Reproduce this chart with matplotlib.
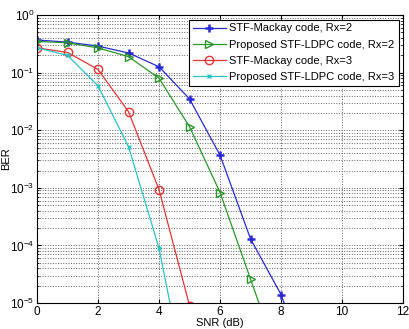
import matplotlib as mpl
mpl.use('Agg')
import matplotlib.pyplot as plt
import numpy as np
from matplotlib.ticker import LogLocator, NullFormatter

snr = [0, 1, 2, 3, 4, 5, 6, 7, 8, 9]

mackay_rx2 = [0.37, 0.34, 0.29, 0.22, 0.127, 0.035, 3.7e-3, 1.3e-4, 1.4e-5, 5e-7]
ldpc_rx2 = [0.35, 0.33, 0.27, 0.19, 0.08, 0.0115, 8.3e-4, 2.6e-5, 8e-7]
mackay_rx3 = [0.27, 0.225, 0.114, 0.021, 9.3e-4, 9e-6, 2e-7]
ldpc_rx3 = [0.27, 0.2, 0.059, 5.2e-3, 8.9e-5, 2e-7]

labels = ['STF-Mackay code, Rx=2', 'Proposed STF-LDPC code, Rx=2',
          'STF-Mackay code, Rx=3', 'Proposed STF-LDPC code, Rx=3']

plt.rcParams['font.family'] = ['Liberation Sans', 'DejaVu Sans']

fig = plt.figure(figsize=(4.09, 3.29), dpi=100)
ax = fig.add_axes([0.0905, 0.079, 0.895, 0.875])

series = [
    (mackay_rx2, '#2a2ad0', dict(marker='+', markersize=6, markeredgewidth=1.8)),
    (ldpc_rx2, '#2a962a', dict(marker='>', markersize=6, markerfacecolor='none')),
    (mackay_rx3, '#e03434', dict(marker='o', markersize=6, markerfacecolor='none')),
    (ldpc_rx3, '#28c4c4', dict(marker='x', markersize=3.5)),
]
for (vals, colour, mk), label in zip(series, labels):
    ax.semilogy(snr[:len(vals)], vals, color=colour, linewidth=0.9,
                label=label, **mk)

ax.set_xlim(0, 12)
ax.set_ylim(1e-5, 1)
ax.set_xticks(range(0, 13, 2))
ax.yaxis.set_major_locator(LogLocator(base=10, numticks=10))
ax.yaxis.set_minor_locator(LogLocator(base=10, subs=np.arange(2, 10), numticks=10))
ax.yaxis.set_minor_formatter(NullFormatter())
ax.grid(True, which='major', axis='both', linestyle=':', color='#606060',
        linewidth=0.7)
ax.grid(True, which='minor', axis='y', linestyle=':', color='#606060',
        linewidth=0.7)
ax.tick_params(which='both', direction='in', top=True, right=True,
               labelsize=8.5, length=3, pad=2)
ax.tick_params(which='minor', length=1.5)
for sp in ax.spines.values():
    sp.set_linewidth(0.8)

ax.set_xlabel('SNR (dB)', fontsize=8, labelpad=0)
ax.set_ylabel('BER', fontsize=8, labelpad=-1)

leg = ax.legend(loc='upper right', fontsize=8, fancybox=False,
                framealpha=1, edgecolor='black', borderaxespad=0.4,
                handlelength=3.0, handletextpad=0.3, labelspacing=0.55,
                borderpad=0.35)
leg.get_frame().set_linewidth(0.8)

fig.savefig('out.png', dpi=100)
plt.close()
